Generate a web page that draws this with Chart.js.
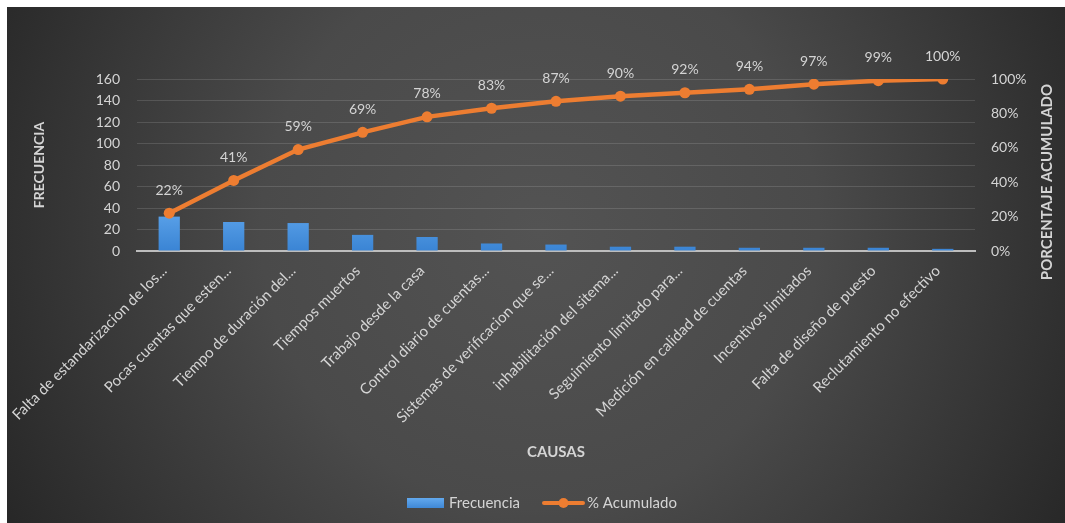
<!DOCTYPE html>
<html>
<head>
<meta charset="utf-8">
<script src="https://cdn.jsdelivr.net/npm/chart.js@4.4.1/dist/chart.umd.min.js"></script>
<style>
  html, body { margin: 0; padding: 0; background: #ffffff; }
  #wrap { width: 1065px; height: 523px; position: relative; }
</style>
</head>
<body>
<div id="wrap"><canvas id="c" width="1065" height="523"></canvas></div>
<script>
const categories = [
  "Falta de estandarizacion de los...",
  "Pocas cuentas que esten...",
  "Tiempo de duración del...",
  "Tiempos muertos",
  "Trabajo desde la casa",
  "Control diario de cuentas...",
  "Sistemas de verificacion que se...",
  "inhabilitación del sitema...",
  "Seguimiento limitado para...",
  "Medición en calidad de cuentas",
  "Incentivos limitados",
  "Falta de diseño de puesto",
  "Reclutamiento no efectivo"
];
const frecuencia = [32, 27, 26, 15, 13, 7, 6, 4, 4, 3, 3, 3, 2];
const acumulado = [22, 41, 59, 69, 78, 83, 87, 90, 92, 94, 97, 99, 100];
const leftTicks = [0, 20, 40, 60, 80, 100, 120, 140, 160];
const rightTicks = [0, 20, 40, 60, 80, 100];

const FONT = "Lato, 'Open Sans', sans-serif";
const TXT = "#d4d4d4";

const bgPlugin = {
  id: 'bg',
  beforeDraw(chart) {
    const ctx = chart.ctx;
    ctx.save();
    ctx.fillStyle = '#ffffff';
    ctx.fillRect(0, 0, chart.width, chart.height);
    const g = ctx.createRadialGradient(540, 230, 0, 540, 230, 620);
    g.addColorStop(0, '#535353');
    g.addColorStop(0.45, '#4a4a4a');
    g.addColorStop(1, '#262626');
    ctx.fillStyle = g;
    ctx.fillRect(7, 7, chart.width - 7, chart.height - 7);
    ctx.restore();
  }
};

const overlayPlugin = {
  id: 'overlay',
  afterDatasetsDraw(chart) {
    const ctx = chart.ctx;
    const meta = chart.getDatasetMeta(1);
    ctx.save();
    ctx.font = "14px " + FONT;
    ctx.fillStyle = TXT;
    ctx.textAlign = 'center';
    ctx.textBaseline = 'middle';
    meta.data.forEach((pt, i) => {
      ctx.fillText(acumulado[i] + '%', pt.x, pt.y - 23);
    });
    ctx.restore();
  },
  afterDraw(chart) {
    const ctx = chart.ctx;
    ctx.save();
    ctx.translate(1047, 182);
    ctx.rotate(-Math.PI / 2);
    ctx.font = "bold 15px " + FONT;
    ctx.fillStyle = TXT;
    ctx.textAlign = 'center';
    ctx.textBaseline = 'middle';
    ctx.fillText('PORCENTAJE ACUMULADO', 0, 0);
    ctx.restore();

    ctx.save();
    const ly = 503;
    const bg = ctx.createLinearGradient(0, ly - 5, 0, ly + 5);
    bg.addColorStop(0, '#62a9ee');
    bg.addColorStop(1, '#3f88d6');
    ctx.fillStyle = bg;
    ctx.fillRect(407, ly - 5, 37, 10);
    ctx.font = "15px " + FONT;
    ctx.fillStyle = TXT;
    ctx.textBaseline = 'middle';
    ctx.textAlign = 'left';
    ctx.fillText(chart.data.datasets[0].label, 449, ly);
    ctx.strokeStyle = '#ED7D31';
    ctx.lineWidth = 4;
    ctx.lineCap = 'round';
    ctx.beginPath();
    ctx.moveTo(544, ly);
    ctx.lineTo(583, ly);
    ctx.stroke();
    ctx.fillStyle = '#ED7D31';
    ctx.beginPath();
    ctx.arc(563.5, ly, 5, 0, Math.PI * 2);
    ctx.fill();
    ctx.fillStyle = TXT;
    ctx.fillText(chart.data.datasets[1].label, 587, ly);
    ctx.restore();
  }
};

function barGradient(context) {
  const chart = context.chart;
  const area = chart.chartArea;
  if (!area) return '#4b95e0';
  const g = chart.ctx.createLinearGradient(0, area.top + 120, 0, area.bottom);
  g.addColorStop(0, '#66acf0');
  g.addColorStop(1, '#3a84d4');
  return g;
}

new Chart(document.getElementById('c'), {
  data: {
    labels: categories,
    datasets: [
      {
        type: 'bar',
        label: 'Frecuencia',
        data: frecuencia,
        yAxisID: 'y',
        backgroundColor: barGradient,
        barPercentage: 0.33,
        categoryPercentage: 1,
        order: 1
      },
      {
        type: 'line',
        label: '% Acumulado',
        data: acumulado,
        yAxisID: 'y1',
        borderColor: '#ED7D31',
        backgroundColor: '#ED7D31',
        borderWidth: 4.5,
        pointRadius: 5.5,
        pointBackgroundColor: '#ED7D31',
        pointBorderWidth: 0,
        tension: 0,
        order: 0
      }
    ]
  },
  options: {
    responsive: false,
    animation: false,
    devicePixelRatio: 1,
    layout: { padding: { left: 27, right: 0, top: 79, bottom: 58 } },
    plugins: {
      legend: { display: false },
      tooltip: { enabled: false }
    },
    scales: {
      x: {
        grid: { display: false, drawTicks: false },
        border: { display: true, color: '#bdbdbd', width: 2 },
        ticks: {
          color: TXT,
          font: { family: FONT, size: 15 },
          maxRotation: 45,
          minRotation: 45,
          autoSkip: false,
          padding: 11,
          labelOffset: -5
        },
        title: {
          display: true,
          text: 'CAUSAS',
          color: TXT,
          font: { family: FONT, size: 15, weight: 'bold' }
        },
        afterFit(scale) {
          scale.height = 214;
          scale.paddingLeft = 0;
          scale.paddingRight = 0;
        }
      },
      y: {
        position: 'left',
        min: 0,
        max: leftTicks[leftTicks.length - 1],
        afterBuildTicks(scale) { scale.ticks = leftTicks.map(v => ({ value: v })); },
        grid: { color: 'rgba(255,255,255,0.13)', lineWidth: 1, drawTicks: false },
        border: { display: false },
        ticks: {
          color: TXT,
          font: { family: FONT, size: 14 },
          padding: 17
        },
        title: {
          display: true,
          text: 'FRECUENCIA',
          color: TXT,
          font: { family: FONT, size: 14, weight: 'bold' }
        },
        afterFit(scale) { scale.width = 110; scale.paddingTop = 0; scale.paddingBottom = 0; }
      },
      y1: {
        position: 'right',
        min: 0,
        max: 100,
        afterBuildTicks(scale) { scale.ticks = rightTicks.map(v => ({ value: v })); },
        grid: { display: false, drawTicks: false },
        border: { display: false },
        ticks: {
          color: TXT,
          font: { family: FONT, size: 14 },
          padding: 16,
          callback: v => v + '%'
        },
        afterFit(scale) { scale.width = 90; scale.paddingTop = 0; scale.paddingBottom = 0; }
      }
    }
  },
  plugins: [bgPlugin, overlayPlugin]
});
</script>
</body>
</html>
